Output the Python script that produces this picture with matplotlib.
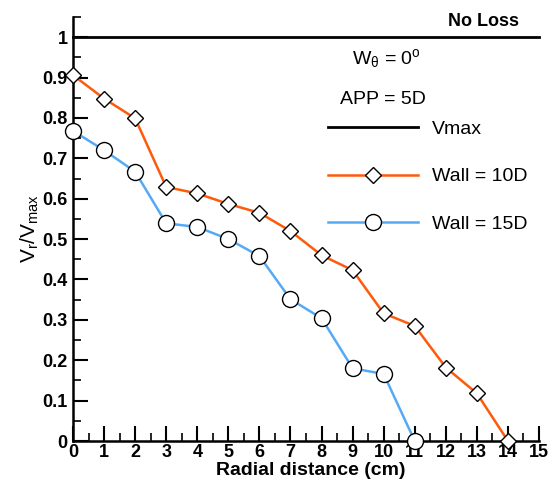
import matplotlib
matplotlib.use('Agg')
import matplotlib.pyplot as plt
from matplotlib.ticker import MultipleLocator

plt.rcParams['font.family'] = ['Liberation Sans', 'DejaVu Sans']
plt.rcParams['mathtext.fontset'] = 'custom'
plt.rcParams['mathtext.rm'] = 'Liberation Sans'
plt.rcParams['mathtext.it'] = 'Liberation Sans'
plt.rcParams['mathtext.bf'] = 'Liberation Sans:bold'

radial = [0, 1, 2, 3, 4, 5, 6, 7, 8, 9, 10, 11, 12, 13, 14]
wall_10d = [0.906, 0.848, 0.799, 0.629, 0.613, 0.587, 0.565, 0.52, 0.46,
            0.423, 0.316, 0.285, 0.182, 0.118, 0.0]
radial_15 = [0, 1, 2, 3, 4, 5, 6, 7, 8, 9, 10, 11]
wall_15d = [0.768, 0.72, 0.667, 0.539, 0.53, 0.50, 0.458, 0.351, 0.304,
            0.18, 0.166, 0.0]
vmax_x = [0, 15]
vmax_y = [1, 1]

orange = '#ff5a0a'
blue = '#55aaf5'

fig = plt.figure(figsize=(5.52, 4.79), dpi=100)
ax = fig.add_axes([73 / 552, 38 / 479, 466 / 552, 424 / 479])

ax.plot(vmax_x, vmax_y, color='black', lw=2, label='Vmax', clip_on=False)
ax.plot(radial, wall_10d, color=orange, lw=1.8, marker='D', ms=8.5,
        mfc='white', mec='black', mew=1, label='Wall = 10D', clip_on=False, zorder=3)
ax.plot(radial_15, wall_15d, color=blue, lw=1.8, marker='o', ms=11.5,
        mfc='white', mec='black', mew=1, label='Wall = 15D', clip_on=False, zorder=3)

ax.set_xlim(0, 15)
ax.set_ylim(0, 1.05)
ax.xaxis.set_major_locator(MultipleLocator(1))
ax.xaxis.set_minor_locator(MultipleLocator(0.5))
ax.yaxis.set_minor_locator(MultipleLocator(0.05))
ax.set_yticks([0, 0.1, 0.2, 0.3, 0.4, 0.5, 0.6, 0.7, 0.8, 0.9, 1.0])
ax.set_yticklabels(['0', '0.1', '0.2', '0.3', '0.4', '0.5', '0.6', '0.7', '0.8', '0.9', '1'])
ax.tick_params(which='major', direction='in', length=11, width=1.5,
               labelsize=13)
ax.tick_params(axis='x', which='major', pad=2)
ax.tick_params(axis='y', which='major', pad=4)
ax.tick_params(which='minor', direction='in', length=6, width=1.2)
for lab in ax.get_xticklabels() + ax.get_yticklabels():
    lab.set_fontweight('bold')

for side in ['top', 'right']:
    ax.spines[side].set_visible(False)
for side in ['left', 'bottom']:
    ax.spines[side].set_linewidth(1.8)

ax.set_xlabel('Radial distance (cm)', fontsize=14, fontweight='bold')
ax.xaxis.set_label_coords(0.51, -0.049)
ax.set_ylabel(r'V$_r$/V$_{max}$', fontsize=15, labelpad=1)

fig.text(484 / 552, 1 - 22 / 479, 'No Loss', fontsize=13, fontweight='bold',
         ha='center', va='center')
fig.text(386 / 552, 1 - 58 / 479, r'W$_\theta$ = 0$^\mathrm{o}$', fontsize=14,
         ha='center', va='center')
fig.text(383 / 552, 1 - 100 / 479, 'APP = 5D', fontsize=14,
         ha='center', va='center')

leg = ax.legend(loc='upper left', bbox_to_anchor=(328 / 552, 1 - 120 / 479),
                bbox_transform=fig.transFigure, frameon=False, fontsize=14,
                handlelength=4.63, handletextpad=0.72, labelspacing=1.55,
                borderpad=0, borderaxespad=0, markerscale=1)

fig.savefig('out.png', dpi=100)
